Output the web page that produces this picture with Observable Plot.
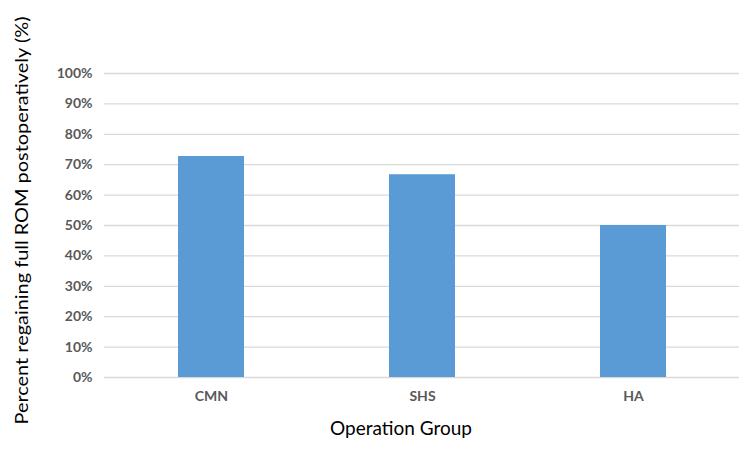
<!DOCTYPE html>
<html>
<head>
<meta charset="utf-8">
<script src="https://cdn.jsdelivr.net/npm/d3@7"></script>
<script src="https://cdn.jsdelivr.net/npm/@observablehq/plot@0.6"></script>
<style>
html,body{margin:0;padding:0;background:#fff;}
#chart svg{display:block;}
</style>
</head>
<body>
<div id="chart"></div>
<script>
const groups = ["CMN", "SHS", "HA"];
const percents = [72.7, 66.7, 50.0];
const yTicks = [0, 10, 20, 30, 40, 50, 60, 70, 80, 90, 100];
const yTitle = "Percent regaining full ROM postoperatively (%)";
const xTitle = "Operation Group";

const data = groups.map((g, i) => ({group: g, value: percents[i]}));
const font = "Lato, 'Open Sans', sans-serif";

const chart = Plot.plot({
  width: 750,
  height: 455,
  marginLeft: 104,
  marginRight: 11,
  marginTop: 73,
  marginBottom: 78,
  style: {fontFamily: font, background: "#fff"},
  x: {domain: groups, paddingInner: 0.688, paddingOuter: 0.344, label: null},
  y: {domain: [0, 100], label: null},
  marks: [
    Plot.gridY(yTicks, {stroke: "#d9d9d9", strokeOpacity: 1, strokeWidth: 1.3}),
    Plot.barY(data, {x: "group", y: "value", fill: "#5b9bd5"}),
    Plot.axisY(yTicks, {tickSize: 0, tickPadding: 12, tickFormat: d => d + "%", fontSize: 14, fontWeight: "bold", fill: "#595959", label: null}),
    Plot.axisX({tickSize: 0, tickPadding: 14, fontSize: 14, fontWeight: "bold", fill: "#595959", label: null}),
    Plot.text([xTitle], {frameAnchor: "bottom", dx: -21, dy: 57, fontSize: 19, fill: "#000", fontFamily: font}),
    Plot.text([yTitle], {frameAnchor: "left", textAnchor: "middle", rotate: -90, dx: -82, dy: -5, fontSize: 18, fill: "#000", fontFamily: font})
  ]
});
document.getElementById("chart").appendChild(chart);
// fit the y title to the reference's length
chart.querySelectorAll("text").forEach(t => {
  if (t.textContent === yTitle) {
    t.setAttribute("textLength", "408");
    t.setAttribute("lengthAdjust", "spacingAndGlyphs");
  }
});
</script>
</body>
</html>
